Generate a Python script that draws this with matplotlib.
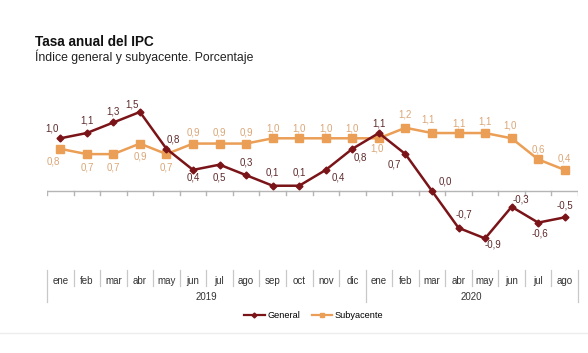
import matplotlib
matplotlib.use("Agg")
import matplotlib.pyplot as plt
from matplotlib.lines import Line2D
from matplotlib.transforms import blended_transform_factory

plt.rcParams['font.family'] = ['Liberation Sans', 'DejaVu Sans']

months = ["ene", "feb", "mar", "abr", "may", "jun", "jul", "ago", "sep", "oct", "nov", "dic",
          "ene", "feb", "mar", "abr", "may", "jun", "jul", "ago"]
years = ["2019", "2020"]
year_lengths = [12, 8]
general = [1.0, 1.1, 1.3, 1.5, 0.8, 0.4, 0.5, 0.3, 0.1, 0.1, 0.4, 0.8,
           1.1, 0.7, 0.0, -0.7, -0.9, -0.3, -0.6, -0.5]
subyacente = [0.8, 0.7, 0.7, 0.9, 0.7, 0.9, 0.9, 0.9, 1.0, 1.0, 1.0, 1.0,
              1.0, 1.2, 1.1, 1.1, 1.1, 1.0, 0.6, 0.4]

# label offsets in pixels (dx, dy) -- layout only
gen_off = [(-8, 10), (0, 13), (0, 11), (-8, 7), (7, 9), (0, -8), (0, -13), (0, 13), (0, 13), (0, 13),
           (13, -8), (8, -9), (0, 10), (-11, -10), (13, 9), (5, 13), (8, -6), (9, 7), (2, -11), (0, 12)]
sub_off = [(-7, -13), (0, -13), (0, -13), (0, -13), (0, -13), (0, 11), (0, 11), (0, 11), (0, 10), (0, 10),
           (0, 10), (0, 10), (-2, -10), (0, 13), (-4, 14), (0, 10), (0, 12), (-2, 13), (0, 10), (0, 11)]

GEN_C = "#7a1418"
SUB_C = "#eb9e55"
GEN_T = "#5e2a2c"
SUB_T = "#dba677"

W, H = 588, 353
fig = plt.figure(figsize=(W / 100, H / 100), dpi=100)
fig.patch.set_facecolor("white")

# axes: x px 47..578, y px 100..250; zero at 191, 52.7 px per unit
ax = fig.add_axes([47 / W, (H - 250) / H, 531 / W, 150 / H])
ppu = 52.7
ax.set_ylim(-(250 - 191) / ppu, (191 - 100) / ppu)
n = len(months)
x = list(range(n))
ax.set_xlim(-0.5, n - 0.5)
ax.axis("off")

ax.axhline(0, color="#b5b5b5", lw=1.0, zorder=1)
for b in range(n + 1):
    ax.plot([b - 0.5, b - 0.5], [0, -4 / ppu], color="#b5b5b5", lw=1.0, zorder=1)

ax.plot(x, subyacente, color=SUB_C, lw=1.8, marker="s", ms=5.5, zorder=3)
ax.plot(x, general, color=GEN_C, lw=1.8, marker="D", ms=3.5, zorder=4)

def fmt(v):
    return f"{v:.1f}".replace(".", ",")

for i, v in enumerate(general):
    dx, dy = gen_off[i]
    ax.annotate(fmt(v), (i, v), xytext=(dx, dy), textcoords="offset pixels",
                ha="center", va="center", fontsize=7, color=GEN_T, zorder=5)
for i, v in enumerate(subyacente):
    dx, dy = sub_off[i]
    ax.annotate(fmt(v), (i, v), xytext=(dx, dy), textcoords="offset pixels",
                ha="center", va="center", fontsize=7, color=SUB_T, zorder=5)

# category axis below
tr = blended_transform_factory(ax.transData, fig.transFigure)
def fy(py):
    return (H - py) / H

for i, m in enumerate(months):
    ax.text(i, fy(281), m, transform=tr, ha="center", va="center", fontsize=7, color="#333333")
year_bounds = [0]
for L in year_lengths:
    year_bounds.append(year_bounds[-1] + L)
for b in range(n + 1):
    if b in year_bounds:
        y1 = 302
    else:
        y1 = 286
    ax.plot([b - 0.5, b - 0.5], [fy(270), fy(y1)], transform=tr, color="#c8c8c8", lw=0.9, clip_on=False)
for k, yr in enumerate(years):
    xc = (year_bounds[k] + year_bounds[k + 1] - 1) / 2
    ax.text(xc, fy(297), yr, transform=tr, ha="center", va="center", fontsize=7, color="#333333")

# titles
fig.text(35 / W, fy(42), "Tasa anual del IPC", fontsize=9.8, fontweight="bold", ha="left", va="center", color="#111111")
fig.text(35 / W, fy(57), "Índice general y subyacente. Porcentaje", fontsize=8.8, ha="left", va="center", color="#222222")

# legend
handles = [Line2D([], [], color=GEN_C, lw=1.6, marker="D", ms=2.5),
           Line2D([], [], color=SUB_C, lw=1.6, marker="s", ms=3.5)]
fig.legend(handles, ["General", "Subyacente"], loc="center", bbox_to_anchor=(314 / W, fy(316)),
           ncol=2, frameon=False, fontsize=6.6, handlelength=2.2, handletextpad=0.3, columnspacing=1.3)

# faint bottom rule
fig.add_artist(Line2D([0, 1], [fy(333), fy(333)], color="#ededed", lw=1.0))

fig.savefig("out.png", dpi=100, facecolor="white")
